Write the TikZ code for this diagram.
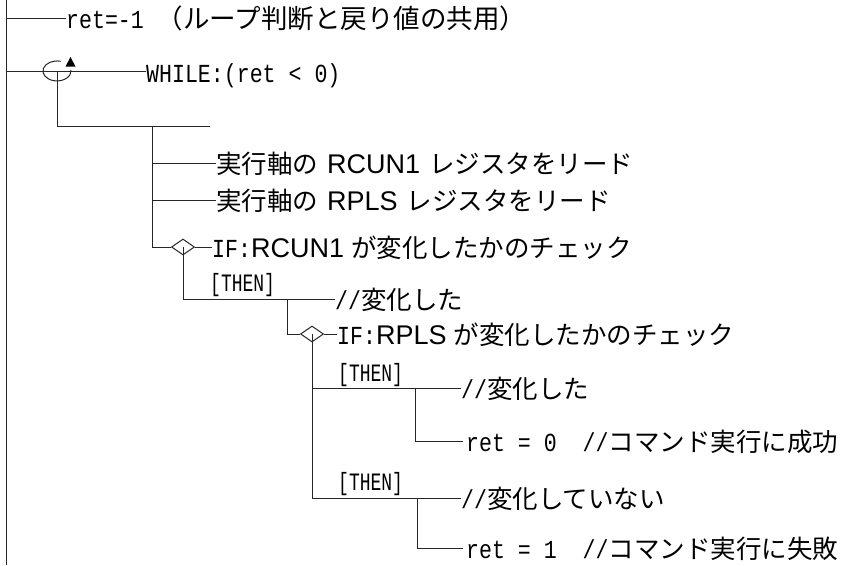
\documentclass[tikz,border=0pt]{standalone}
\usepackage{fontspec}
\usetikzlibrary{shapes.geometric}
\newfontfamily\jpfont{Noto Sans CJK JP}
\newfontfamily\latfont{Liberation Sans}
\newfontfamily\monofont[FakeStretch=0.83]{Liberation Mono}
\newfontfamily\monothen[FakeStretch=0.72]{Liberation Mono}
\newcommand\mtxt[1]{{\monofont\fontsize{26}{26}\selectfont #1}}
\newcommand\ltxt[1]{{\latfont\fontsize{27}{27}\selectfont #1}}
\tikzset{
  wire/.style={line width=1pt, draw=black!85},
  lbl/.style={anchor=base west, inner sep=0pt, font=\jpfont\fontsize{25.5}{25.5}\selectfont},
  thenlbl/.style={anchor=base west, inner sep=0pt, font=\monothen\fontsize{25}{25}\selectfont},
  ifbox/.style={diamond, draw=black!85, line width=1pt, fill=white, minimum width=23pt, minimum height=16pt, inner sep=0pt},
}
\begin{document}
\begin{tikzpicture}[x=1pt,y=-1pt]
\useasboundingbox (0,0) rectangle (862,565);
\fill[white] (0,0) rectangle (862,565);

% main spine
\coordinate (L0) at (6,0);
\coordinate (L1) at (6,565);
\draw[wire] (L0) -- (L1);

% row 1
\coordinate (r1) at (6,18);
\node[lbl] (t1) at (66,28) {\mtxt{ret=-1\ }{\fontsize{26.5}{26.5}\selectfont （ループ判断と戻り値の共用）}};
\draw[wire] (r1) -- (r1 -| t1.west);

% WHILE row
\coordinate (r2) at (6,71);
\coordinate (lp) at (57,71);
\node[lbl] (t2) at (146,82) {\mtxt{WHILE:(ret < 0)}};
\draw[wire] (r2) -- (r2 -| t2.west);
\draw[wire] (60.6,61.3) arc[start angle=-75, end angle=-365, x radius=14, y radius=10];
\fill[black] (65.5,66.5) -- (75.5,66.5) -- (70.5,57) -- cycle;
\coordinate (h1) at (210,126);
\draw[wire] (lp) |- (h1);

% loop body
\coordinate (v1t) at (152,126);
\coordinate (r3) at (152,163);
\coordinate (r4) at (152,200);
\node[lbl] (t3) at (216,173) {実行軸の\hspace{9pt}\ltxt{RCUN1}\hspace{9pt}レジスタをリード};
\node[lbl] (t4) at (216,210) {実行軸の\hspace{9pt}\ltxt{RPLS}\hspace{9pt}レジスタをリード};
\draw[wire] (r3) -- (r3 -| t3.west);
\draw[wire] (r4) -- (r4 -| t4.west);

% IF 1
\node[ifbox] (d1) at (183,247) {};
\node[lbl] (t5) at (212,257) {\mtxt{IF:}\ltxt{RCUN1}\hspace{7pt}が変化したかのチェック};
\draw[wire] (v1t) |- (d1.west);
\draw[wire] (d1.east) -- (d1.east -| t5.west);
\coordinate (h2) at (335,299);
\draw[wire] (d1.center) |- (h2);
\node[thenlbl] (th1) at (210,291) {[THEN]};
\node[lbl] (t6) at (335,309) {\mtxt{//}変化した};

% IF 2
\coordinate (j2) at (287,299);
\node[ifbox] (d2) at (312,334) {};
\node[lbl] (t7) at (337,344) {\mtxt{IF:}\ltxt{RPLS}\hspace{7pt}が変化したかのチェック};
\draw[wire] (j2) |- (d2.west);
\draw[wire] (d2.east) -- (d2.east -| t7.west);
\coordinate (h4) at (461,498);
\draw[wire] (d2.center) |- (h4);

% THEN 2a
\coordinate (b1) at (312,388);
\node[thenlbl] (th2) at (338,381) {[THEN]};
\node[lbl] (t8) at (461,398) {\mtxt{//}変化した};
\draw[wire] (b1) -- (b1 -| t8.west);
\coordinate (j3) at (415,388);
\coordinate (e9) at (463,441);
\node[lbl] (t9) at (466,451) {\mtxt{ret = 0\ \ //}コマンド実行に成功};
\draw[wire] (j3) |- (e9);

% THEN 2b
\node[thenlbl] (th3) at (338,490) {[THEN]};
\node[lbl] (t10) at (461,508) {\mtxt{//}変化していない};
\coordinate (j4) at (417,498);
\coordinate (e11) at (463,548);
\node[lbl] (t11) at (466,558) {\mtxt{ret = 1\ \ //}コマンド実行に失敗};
\draw[wire] (j4) |- (e11);
\end{tikzpicture}
\end{document}
